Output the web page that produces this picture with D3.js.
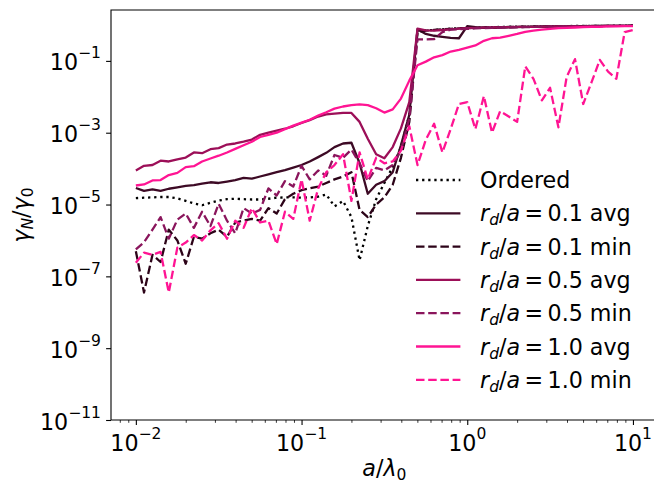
<!DOCTYPE html>
<html>
<head>
<meta charset="utf-8">
<script src="https://cdn.jsdelivr.net/npm/d3@7"></script>
<style>
  body { margin: 0; background: #fff; }
  svg { display: block; font-family: 'DejaVu Sans', sans-serif; }
  .tick-label { font-size: 22.2px; fill: #000; }
  .legend-label { font-size: 22.2px; fill: #000; }
  .axis-label { font-size: 22.2px; fill: #000; }
</style>
</head>
<body>
<div id="chart"></div>
<script>
// a / lambda_0 sample points (shared by every series)
const xValues = [
  0.01, 0.0112, 0.0126, 0.0141, 0.0158, 0.0178, 0.02, 0.0224, 0.0251, 0.0282,
  0.0316, 0.0355, 0.0398, 0.0447, 0.0501, 0.0562, 0.0631, 0.0708, 0.0794, 0.0891,
  0.1, 0.112, 0.126, 0.141, 0.158, 0.178, 0.2, 0.224, 0.251, 0.282,
  0.316, 0.355, 0.398, 0.447, 0.501, 0.562, 0.631, 0.708, 0.794, 0.891,
  1, 1.12, 1.26, 1.41, 1.58, 1.78, 2, 2.24, 2.51, 2.82,
  3.16, 3.55, 3.98, 4.47, 5.01, 5.62, 6.31, 7.08, 7.94, 8.91, 10,
];

const ordered = [
  1.51e-5, 1.55e-5, 1.58e-5, 1.62e-5, 1.62e-5, 1.48e-5, 1.26e-5, 1.07e-5, 9.55e-6, 1.12e-5,
  1.29e-5, 1.41e-5, 1.45e-5, 1.41e-5, 1.38e-5, 1.38e-5, 1.45e-5, 1.55e-5, 1.58e-5, 1.58e-5,
  1.55e-5, 1.58e-5, 1.66e-5, 1.9e-5, 8.91e-6, 1.26e-5, 4.47e-6, 2.82e-7, 2.51e-6, 1.41e-5,
  3.98e-5, 1.12e-4, 3.98e-4, 3.16e-3, 0.708, 0.708, 0.724, 0.759, 0.794, 0.813,
  0.832, 0.85, 0.86, 0.87, 0.88, 0.89, 0.9, 0.9, 0.91, 0.92,
  0.92, 0.93, 0.93, 0.94, 0.94, 0.95, 0.95, 0.95, 0.96, 0.96, 0.96,
];

const avg01 = [
  2.88e-5, 2.40e-5, 2.63e-5, 2.40e-5, 2.75e-5, 3.02e-5, 3.31e-5, 3.47e-5, 3.80e-5, 4.17e-5,
  3.98e-5, 4.37e-5, 4.79e-5, 5.50e-5, 5.25e-5, 6.03e-5, 6.92e-5, 7.94e-5, 9.12e-5, 1.07e-4,
  1.26e-4, 1.58e-4, 2.09e-4, 2.75e-4, 3.98e-4, 5.01e-4, 5.25e-4, 1.41e-4, 2.00e-5, 3.55e-5,
  4.47e-5, 7.94e-5, 4.47e-4, 3.16e-3, 0.759, 0.562, 0.501, 0.468, 0.437, 0.427,
  0.933, 0.871, 0.832, 0.832, 0.851, 0.86, 0.87, 0.88, 0.89, 0.9,
  0.9, 0.91, 0.92, 0.92, 0.93, 0.93, 0.94, 0.94, 0.95, 0.95, 0.96,
];

const min01 = [
  5.01e-7, 3.55e-8, 3.98e-7, 2.51e-7, 2.00e-6, 1.00e-6, 2.24e-7, 1.26e-6, 1.12e-6, 1.58e-6,
  2.00e-6, 1.26e-6, 3.16e-6, 3.55e-6, 3.98e-6, 3.55e-6, 7.94e-6, 5.62e-6, 1.41e-5, 2.00e-5,
  2.51e-5, 2.82e-5, 3.16e-5, 3.98e-5, 5.01e-5, 6.03e-5, 7.94e-5, 7.08e-6, 4.47e-6, 1.00e-5,
  1.58e-5, 3.55e-5, 2.00e-4, 2.00e-3, 0.631, 0.692, 0.724, 0.759, 0.78, 0.8,
  0.82, 0.84, 0.85, 0.86, 0.87, 0.88, 0.89, 0.9, 0.9, 0.91,
  0.91, 0.92, 0.92, 0.93, 0.93, 0.94, 0.94, 0.95, 0.95, 0.95, 0.96,
];

const avg05 = [
  8.91e-5, 1.20e-4, 1.26e-4, 1.66e-4, 1.58e-4, 1.82e-4, 2.04e-4, 2.82e-4, 2.69e-4, 3.47e-4,
  3.72e-4, 4.68e-4, 5.01e-4, 5.62e-4, 6.46e-4, 8.71e-4, 1.00e-3, 1.15e-3, 1.29e-3, 1.51e-3,
  1.86e-3, 2.24e-3, 2.82e-3, 3.24e-3, 3.39e-3, 3.55e-3, 3.55e-3, 2.00e-3, 6.76e-4, 2.51e-4,
  1.95e-4, 3.98e-4, 1.32e-3, 7.08e-3, 0.794, 0.708, 0.692, 0.724, 0.759, 0.794,
  0.813, 0.83, 0.84, 0.85, 0.86, 0.87, 0.88, 0.89, 0.89, 0.9,
  0.9, 0.91, 0.91, 0.92, 0.92, 0.93, 0.93, 0.94, 0.94, 0.95, 0.95,
];

const min05 = [
  5.62e-7, 8.91e-7, 2.00e-6, 4.47e-6, 1.12e-6, 3.80e-6, 5.62e-6, 2.24e-6, 6.31e-6, 2.51e-6,
  1.05e-5, 3.55e-6, 1.58e-6, 7.94e-6, 5.62e-6, 7.08e-6, 2.82e-5, 1.78e-5, 4.47e-5, 3.16e-5,
  1.20e-4, 5.01e-5, 8.91e-5, 6.31e-5, 2.40e-4, 2.00e-4, 3.39e-4, 1.41e-4, 4.47e-5, 1.05e-4,
  8.91e-5, 1.26e-4, 3.16e-4, 2.51e-3, 0.398, 0.398, 0.407, 0.631, 0.741, 0.76,
  0.78, 0.8, 0.82, 0.83, 0.84, 0.85, 0.86, 0.87, 0.88, 0.89,
  0.9, 0.9, 0.91, 0.91, 0.92, 0.92, 0.93, 0.93, 0.94, 0.94, 0.95,
];

const avg10 = [
  3.39e-5, 3.63e-5, 4.68e-5, 4.79e-5, 6.61e-5, 7.59e-5, 1.10e-4, 1.17e-4, 1.58e-4, 1.91e-4,
  2.29e-4, 2.82e-4, 3.55e-4, 4.47e-4, 5.62e-4, 7.59e-4, 8.71e-4, 1.00e-3, 1.26e-3, 1.58e-3,
  1.91e-3, 2.29e-3, 3.02e-3, 3.72e-3, 4.68e-3, 5.37e-3, 5.89e-3, 6.17e-3, 5.89e-3, 4.79e-3,
  3.63e-3, 4.47e-3, 8.91e-3, 2.82e-2, 7.59e-2, 9.55e-2, 0.126, 0.145, 0.182, 0.204,
  0.234, 0.269, 0.363, 0.427, 0.447, 0.501, 0.562, 0.646, 0.692, 0.741,
  0.776, 0.813, 0.832, 0.851, 0.871, 0.891, 0.891, 0.912, 0.912, 0.933, 0.933,
];

const min10 = [
  2.40e-7, 4.57e-7, 3.98e-7, 4.79e-7, 3.55e-8, 6.31e-7, 8.71e-7, 1.41e-6, 1.00e-6, 1.91e-6,
  3.02e-6, 1.12e-6, 3.55e-6, 2.24e-6, 7.94e-6, 3.16e-6, 3.55e-6, 7.94e-7, 6.31e-6, 3.98e-6,
  5.01e-5, 3.55e-6, 2.82e-5, 7.94e-5, 1.26e-4, 2.51e-4, 1.26e-5, 2.82e-4, 5.01e-5, 2.00e-4,
  1.41e-4, 1.58e-4, 3.16e-4, 1.51e-3, 1.26e-4, 6.31e-4, 1.78e-3, 2.82e-4, 1.26e-3, 6.31e-3,
  7.08e-3, 1.26e-3, 1.05e-2, 1.00e-3, 3.98e-3, 2.82e-3, 2.00e-3, 7.08e-2, 3.16e-2, 7.94e-3,
  1.78e-2, 1.41e-3, 3.55e-2, 0.112, 6.31e-3, 2.51e-2, 0.107, 5.01e-2, 3.16e-2, 0.631, 0.724,
];

const seriesValues = [ordered, avg01, min01, avg05, min05, avg10, min10];
const ratioLabels = [null, '0.1', '0.1', '0.5', '0.5', '1.0', '1.0'];
const statLabels = ['Ordered', 'avg', 'min', 'avg', 'min', 'avg', 'min'];

const xMajorTicks = [1e-2, 1e-1, 1e0, 1e1];
const xMajorExponents = ['\u22122', '\u22121', '0', '1'];
const xMinorTicks = [
  0.008, 0.009,
  0.02, 0.03, 0.04, 0.05, 0.06, 0.07, 0.08, 0.09,
  0.2, 0.3, 0.4, 0.5, 0.6, 0.7, 0.8, 0.9,
  2, 3, 4, 5, 6, 7, 8, 9,
];
const yMajorTicks = [1e-1, 1e-3, 1e-5, 1e-7, 1e-9, 1e-11];
const yMajorExponents = ['\u22121', '\u22123', '\u22125', '\u22127', '\u22129', '\u221211'];

// styles, kept apart from the values
const lineColors = ['#000000', '#3d0a25', '#2c0318', '#9c0f58', '#8a155c', '#ff1493', '#ff1493'];
const lineDashes = ['2.3,3.8', null, '8.5,3.7', null, '8.5,3.7', null, '8.5,3.7'];

class DecayRatePlot {
  constructor(_config) {
    this.config = {
      parentElement: _config.parentElement,
      containerWidth: 654,
      containerHeight: 483,
      margin: { top: 10, left: 111 },
      plotWidth: 546.8,
      plotHeight: 410,
      fontSize: 22.2,
      lineWidth: 2.3,
    };
    this.initVis();
  }

  initVis() {
    const vis = this;
    const cfg = vis.config;

    vis.svg = d3.select(cfg.parentElement)
      .append('svg')
      .attr('width', cfg.containerWidth)
      .attr('height', cfg.containerHeight);

    vis.chart = vis.svg.append('g')
      .attr('transform', `translate(${cfg.margin.left},${cfg.margin.top})`);

    vis.xScale = d3.scaleLog()
      .domain([10 ** -2.15, 10 ** 1.15])
      .range([0, cfg.plotWidth]);

    vis.yScale = d3.scaleLog()
      .domain([1e-11, 10 ** 0.417])
      .range([cfg.plotHeight, 0]);
  }

  renderVis() {
    const vis = this;
    const cfg = vis.config;

    const line = d3.line()
      .x((d) => vis.xScale(d[0]))
      .y((d) => vis.yScale(d[1]));

    seriesValues.forEach((values, i) => {
      vis.chart.append('path')
        .datum(values.map((v, j) => [xValues[j], v]))
        .attr('fill', 'none')
        .attr('stroke', lineColors[i])
        .attr('stroke-width', cfg.lineWidth)
        .attr('stroke-linejoin', 'round')
        .attr('stroke-dasharray', lineDashes[i])
        .attr('d', line);
    });

    // axes
    const xMinor = vis.chart.append('g')
      .attr('transform', `translate(0,${cfg.plotHeight})`)
      .call(d3.axisBottom(vis.xScale).tickValues(xMinorTicks).tickSize(2.8).tickFormat(''));
    xMinor.select('.domain').remove();
    xMinor.selectAll('.tick line').attr('stroke-width', 0.8);

    const xAxis = vis.chart.append('g')
      .attr('transform', `translate(0,${cfg.plotHeight})`)
      .call(d3.axisBottom(vis.xScale).tickValues(xMajorTicks).tickSize(4.9).tickFormat(''));
    xAxis.select('.domain').remove();
    xAxis.selectAll('.tick line').attr('stroke-width', 1.1);

    const yAxis = vis.chart.append('g')
      .call(d3.axisLeft(vis.yScale).tickValues(yMajorTicks).tickSize(4.9).tickFormat(''));
    yAxis.select('.domain').remove();
    yAxis.selectAll('.tick line').attr('stroke-width', 1.1);

    // spines: left, bottom, top (right one falls outside the picture)
    vis.chart.append('path')
      .attr('d', `M${cfg.plotWidth},0H0V${cfg.plotHeight}H${cfg.plotWidth}`)
      .attr('fill', 'none')
      .attr('stroke', '#000')
      .attr('stroke-width', 1.1);

    const powerLabel = (sel, exponent) => {
      sel.append('tspan').text('10');
      sel.append('tspan').attr('font-size', cfg.fontSize * 0.7).attr('dy', -12).text(exponent);
    };

    xMajorTicks.forEach((t, i) => {
      vis.chart.append('text')
        .attr('class', 'tick-label')
        .attr('x', vis.xScale(t))
        .attr('y', cfg.plotHeight + 31)
        .attr('text-anchor', 'middle')
        .call(powerLabel, xMajorExponents[i]);
    });

    yMajorTicks.forEach((t, i) => {
      vis.chart.append('text')
        .attr('class', 'tick-label')
        .attr('x', -10)
        .attr('y', vis.yScale(t) + 9.5)
        .attr('text-anchor', 'end')
        .call(powerLabel, yMajorExponents[i]);
    });

    // axis labels
    const xLabel = vis.svg.append('text')
      .attr('class', 'axis-label')
      .attr('x', cfg.margin.left + cfg.plotWidth / 2)
      .attr('y', 476)
      .attr('text-anchor', 'middle');
    xLabel.append('tspan').attr('font-style', 'italic').text('a');
    xLabel.append('tspan').text('/');
    xLabel.append('tspan').attr('font-style', 'italic').text('\u03bb');
    xLabel.append('tspan').attr('font-size', cfg.fontSize * 0.7).attr('dy', 4).text('0');

    const yLabel = vis.svg.append('text')
      .attr('class', 'axis-label')
      .attr('transform', `translate(29,${cfg.margin.top + cfg.plotHeight / 2}) rotate(-90)`)
      .attr('text-anchor', 'middle');
    yLabel.append('tspan').attr('font-style', 'italic').text('\u03b3');
    yLabel.append('tspan').attr('font-style', 'italic').attr('font-size', cfg.fontSize * 0.7)
      .attr('dy', 4).text('N');
    yLabel.append('tspan').attr('dy', -4).text('/');
    yLabel.append('tspan').attr('font-style', 'italic').text('\u03b3');
    yLabel.append('tspan').attr('font-size', cfg.fontSize * 0.7).attr('dy', 4).text('0');

    // legend
    const legend = vis.svg.append('g').attr('transform', 'translate(416,180)');
    seriesValues.forEach((_, i) => {
      const row = legend.append('g').attr('transform', `translate(0,${i * 33.3})`);
      row.append('line')
        .attr('x1', 0).attr('x2', 44.4)
        .attr('stroke', lineColors[i])
        .attr('stroke-width', cfg.lineWidth)
        .attr('stroke-dasharray', lineDashes[i]);

      const label = row.append('text')
        .attr('class', 'legend-label')
        .attr('x', 64)
        .attr('y', 8);
      if (ratioLabels[i] === null) {
        label.text(statLabels[i]);
        return;
      }
      label.append('tspan').attr('font-style', 'italic').text('r');
      label.append('tspan').attr('font-style', 'italic').attr('font-size', cfg.fontSize * 0.7)
        .attr('dy', 4).text('d');
      label.append('tspan').attr('dy', -4).text('/');
      label.append('tspan').attr('font-style', 'italic').text('a');
      label.append('tspan').text(`\u2009=\u2009${ratioLabels[i]} ${statLabels[i]}`);
    });
  }
}

const plot = new DecayRatePlot({ parentElement: '#chart' });
plot.renderVis();
</script>
</body>
</html>
